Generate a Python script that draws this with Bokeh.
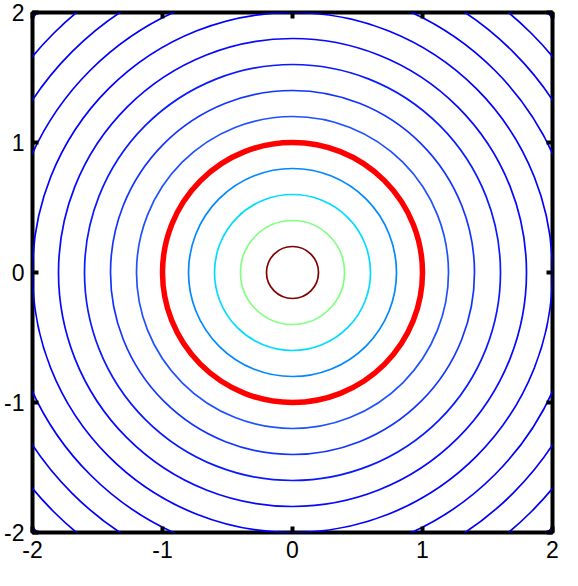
from bokeh.plotting import figure
from bokeh.models import Range1d, LinearAxis, FixedTicker
from bokeh.embed import file_html
from bokeh.resources import INLINE

# contour radii (levels) and their colours
levels = [0.2, 0.4, 0.6, 0.8, 1.0, 1.2, 1.4, 1.6, 1.8, 2.0, 2.2, 2.4, 2.6, 2.8]
level_colors = ["#800000", "#80ff80", "#00dcff", "#0088ff", "#004dff", "#1f50ff",
                "#1233ff", "#0818ff", "#0408ff", "#0000ff", "#0000fa", "#0000f5",
                "#0000f0", "#0000eb"]
highlight_radius = [1.0]
tick_values = [-2, -1, 0, 1, 2]
tick_labels = ["-2", "-1", "0", "1", "2"]

p = figure(width=562, height=570, x_range=Range1d(-2, 2), y_range=Range1d(-2, 2),
           output_backend="svg", toolbar_location=None,
           min_border_left=32, min_border_right=10, min_border_top=12, min_border_bottom=38)
p.grid.visible = False
p.background_fill_color = "white"
p.border_fill_color = "white"
p.outline_line_color = "black"
p.outline_line_width = 4

n = len(levels)
p.circle(x=[0] * n, y=[0] * n, radius=levels, fill_color=None,
         line_color=level_colors, line_width=1.7)
p.circle(x=[0], y=[0], radius=highlight_radius, fill_color=None,
         line_color="#ff0000", line_width=5.5)

p.add_layout(LinearAxis(), "above")
p.add_layout(LinearAxis(), "right")

for ax in p.axis:
    ax.ticker = FixedTicker(ticks=tick_values)
    ax.axis_line_color = None
    ax.major_tick_in = 6
    ax.major_tick_out = 0
    ax.major_tick_line_width = 4
    ax.major_tick_line_color = "black"
    ax.minor_tick_line_color = None
    ax.major_label_text_font = "Liberation Sans"
    ax.major_label_text_color = "black"

for ax in list(p.below) + list(p.left):
    ax.major_label_overrides = {t: s for t, s in zip(tick_values, tick_labels)}
    ax.major_label_text_font_size = "23px"
    ax.major_label_standoff = 8

for ax in list(p.above) + list(p.right):
    ax.major_label_overrides = {t: "" for t in tick_values}
    ax.major_label_text_font_size = "0px"
    ax.major_label_standoff = 0

open("out.html", "w").write(file_html(p, INLINE))
